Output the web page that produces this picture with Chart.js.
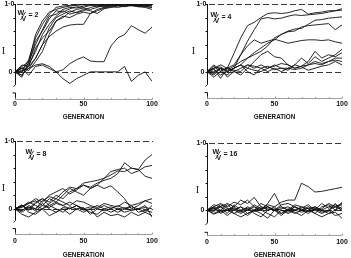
<!DOCTYPE html>
<html>
<head>
<meta charset="utf-8">
<script src="https://cdn.jsdelivr.net/npm/chart.js"></script>
<style>
  html, body { margin: 0; padding: 0; background: #fff; }
  #wrap { position: relative; width: 351px; height: 258px; overflow: hidden; }
  canvas { position: absolute; }
</style>
</head>
<body>
<div id="wrap">
  <canvas id="w2" width="175" height="129" style="left:0;top:0"></canvas>
  <canvas id="w4" width="176" height="129" style="left:175px;top:0"></canvas>
  <canvas id="w8" width="175" height="129" style="left:0;top:129px"></canvas>
  <canvas id="w16" width="176" height="129" style="left:175px;top:129px"></canvas>
</div>
<script>
// generation sampled every 5
const generations = [0, 5, 10, 15, 20, 25, 30, 35, 40, 45, 50, 55, 60, 65, 70, 75, 80, 85, 90, 95, 100];
const xTickLabels = ['0', '50', '100'];

// W/V = 2
const runsW2 = [
  [0, -0.05, 0.05, 0.1, 0.12, 0.08, 0.0, -0.1, -0.17, -0.1, -0.05, 0, 0, 0, 0, 0.0, 0.08, -0.14, -0.05, 0.0, -0.14],
  [0, 0.05, -0.05, 0.08, 0.1, 0.05, 0.0, 0.03, 0.12, 0.18, 0.22, 0.16, 0.15, 0.15, 0.38, 0.5, 0.55, 0.68, 0.62, 0.57, 0.66],
  [0, 0.0, 0.08, 0.2, 0.4, 0.52, 0.6, 0.66, 0.69, 0.7, 0.7, 0.86, 0.92, 0.95, 0.97, 0.98, 0.97, 0.98, 0.96, 0.97, 0.95],
  [0, 0.08, 0.15, 0.55, 0.75, 0.88, 0.92, 0.95, 0.97, 0.98, 0.99, 1.0, 0.99, 1.0, 0.99, 1.0, 0.99, 1.0, 0.99, 1.0, 0.99],
  [0, 0.05, 0.12, 0.45, 0.6, 0.78, 0.9, 0.88, 0.93, 0.96, 0.95, 0.98, 0.97, 0.99, 1.0, 0.98, 0.99, 0.97, 0.99, 1.0, 0.98],
  [0, -0.05, 0.1, 0.3, 0.55, 0.7, 0.82, 0.9, 0.85, 0.88, 0.92, 0.9, 0.86, 0.93, 0.95, 0.97, 0.96, 0.98, 0.96, 0.95, 0.92],
  [0, 0.02, 0.05, 0.2, 0.4, 0.65, 0.8, 0.85, 0.9, 0.87, 0.9, 0.95, 0.97, 0.96, 0.98, 0.99, 1.0, 0.98, 0.97, 0.99, 1.0],
  [0, 0.1, 0.08, 0.35, 0.5, 0.6, 0.75, 0.8, 0.88, 0.92, 0.94, 0.92, 0.95, 0.98, 0.97, 0.99, 0.98, 1.0, 0.98, 0.96, 0.95],
  [0, -0.08, 0.15, 0.4, 0.62, 0.82, 0.85, 0.92, 0.95, 0.94, 0.97, 0.99, 0.98, 0.97, 0.99, 0.98, 1.0, 0.99, 1.0, 0.98, 0.97],
  [0, 0.06, 0.02, 0.15, 0.3, 0.55, 0.75, 0.82, 0.8, 0.85, 0.88, 0.86, 0.9, 0.94, 0.96, 0.95, 0.97, 0.99, 0.98, 0.97, 0.99],
  [0, 0.0, 0.18, 0.5, 0.7, 0.85, 0.95, 0.97, 0.98, 0.99, 1.0, 0.99, 1.0, 0.99, 1.0, 0.99, 1.0, 0.99, 1.0, 0.99, 1.0]
];

// W/V = 4
const runsW4 = [
  [0, 0.05, -0.1, 0.05, 0.27, 0.5, 0.68, 0.73, 0.8, 0.86, 0.87, 0.86, 0.87, 0.9, 0.92, 0.85, 0.87, 0.88, 0.9, 0.9, 0.91],
  [0, -0.05, 0.05, 0.0, 0.05, 0.25, 0.45, 0.62, 0.78, 0.8, 0.78, 0.79, 0.82, 0.84, 0.83, 0.84, 0.85, 0.86, 0.88, 0.9, 0.93],
  [0, 0.08, 0.0, -0.05, 0.05, 0.1, 0.2, 0.28, 0.35, 0.42, 0.47, 0.55, 0.6, 0.63, 0.64, 0.7, 0.76, 0.77, 0.79, 0.8, 0.81],
  [0, -0.03, 0.05, 0.02, 0.08, 0.15, 0.2, 0.25, 0.3, 0.38, 0.5, 0.55, 0.59, 0.6, 0.66, 0.68, 0.69, 0.7, 0.71, 0.62, 0.69],
  [0, 0.1, 0.02, 0.05, 0.1, 0.25, 0.38, 0.47, 0.42, 0.45, 0.48, 0.45, 0.42, 0.44, 0.46, 0.47, 0.47, 0.46, 0.47, 0.44, 0.42],
  [0, 0.05, 0.07, 0.0, 0.05, 0.1, 0.05, 0.15, 0.25, 0.3, 0.22, 0.2, 0.1, 0.05, 0.08, 0.15, 0.3, 0.2, 0.25, 0.22, 0.28],
  [0, -0.08, 0.0, 0.06, 0.02, 0.0, 0.1, 0.05, 0.1, 0.05, 0.1, 0.05, 0.02, 0.1, 0.2, 0.12, 0.22, 0.15, 0.2, 0.25, 0.33],
  [0, 0.03, -0.05, 0.0, 0.05, 0.1, 0.0, -0.05, 0.05, 0.08, 0.03, 0.05, 0.05, 0.03, 0.05, 0.1, 0.15, 0.12, 0.15, 0.2, 0.2],
  [0, 0.0, 0.05, -0.08, 0.0, 0.05, 0.1, 0.08, 0.05, 0.0, 0.05, 0.0, 0.05, 0.1, 0.07, 0.02, 0.05, 0.08, 0.1, 0.15, 0.1],
  [0, 0.05, 0.1, 0.05, 0.0, -0.05, 0.05, 0.02, 0.0, 0.05, 0.08, 0.12, 0.1, 0.05, 0.08, 0.1, 0.12, 0.1, 0.15, 0.17, 0.15]
];

// W/V = 8
const runsW8 = [
  [0, 0.05, 0.0, 0.1, 0.15, 0.1, 0.2, 0.15, 0.25, 0.3, 0.35, 0.32, 0.38, 0.42, 0.45, 0.52, 0.68, 0.6, 0.58, 0.72, 0.8],
  [0, -0.03, 0.05, 0.0, 0.12, 0.18, 0.15, 0.25, 0.32, 0.3, 0.38, 0.4, 0.42, 0.45, 0.55, 0.58, 0.6, 0.52, 0.56, 0.62, 0.64],
  [0, 0.02, 0.08, 0.15, 0.1, 0.2, 0.25, 0.3, 0.22, 0.28, 0.35, 0.3, 0.35, 0.45, 0.5, 0.56, 0.55, 0.6, 0.58, 0.48, 0.45],
  [0, 0.05, -0.02, 0.08, 0.15, 0.05, 0.1, 0.2, 0.3, 0.25, 0.2, 0.3, 0.35, 0.3, 0.34, 0.25, 0.15, 0.0, 0.05, 0.12, 0.15],
  [0, 0.03, 0.1, 0.05, 0.0, 0.08, 0.15, 0.1, 0.05, 0.12, 0.1, 0.05, 0.02, 0.08, 0.05, 0.03, 0.1, 0.05, 0.08, 0.12, 0.08],
  [0, -0.05, 0.02, 0.0, 0.08, 0.0, -0.05, 0.02, 0.0, 0.05, -0.02, 0.0, 0.05, 0.0, 0.03, 0.0, 0.02, -0.02, 0.0, 0.02, 0.0],
  [0, 0.06, -0.05, -0.08, 0.0, 0.05, 0.0, -0.05, 0.03, 0.0, 0.02, -0.08, 0.0, 0.05, 0.0, -0.05, 0.0, 0.05, -0.05, -0.02, -0.05],
  [0, -0.08, -0.12, -0.05, 0.0, -0.1, -0.05, 0.0, -0.08, 0.0, -0.05, 0.0, -0.12, -0.05, -0.1, -0.08, -0.12, -0.05, -0.1, -0.05, -0.1],
  [0, 0.04, 0.08, 0.12, 0.05, 0.15, 0.1, 0.05, 0.0, 0.05, 0.0, 0.03, 0.0, -0.03, 0.0, 0.05, 0.0, 0.03, 0.0, -0.05, 0.05],
  [0, -0.02, 0.03, -0.03, 0.05, 0.02, 0.08, 0.05, 0.1, 0.05, 0.0, -0.05, -0.08, 0.0, -0.05, 0.0, -0.05, -0.02, 0.0, 0.05, -0.12]
];

// W/V = 16
const runsW16 = [
  [0, 0.02, 0.05, 0.0, 0.03, -0.02, 0.05, 0.0, 0.02, 0.08, 0.05, 0.12, 0.15, 0.15, 0.4, 0.35, 0.27, 0.28, 0.3, 0.32, 0.34],
  [0, 0.05, 0.1, 0.05, 0.12, 0.08, 0.15, 0.05, 0.0, 0.1, 0.25, 0.05, 0.0, 0.08, 0.05, 0.02, 0.05, 0.0, 0.05, 0.08, 0.02],
  [0, 0.08, 0.05, 0.1, 0.05, 0.15, 0.1, 0.19, 0.05, 0.02, 0.0, 0.08, 0.1, 0.05, 0.0, 0.05, 0.0, 0.1, 0.03, 0.05, 0.1],
  [0, -0.05, 0.0, -0.08, 0.0, -0.05, 0.0, 0.05, 0.0, -0.05, -0.1, 0.0, -0.05, 0.0, 0.05, -0.02, 0.0, -0.05, 0.0, -0.08, -0.05],
  [0, 0.03, -0.03, 0.02, -0.05, 0.0, -0.08, 0.0, 0.05, 0.0, 0.05, -0.05, 0.02, 0.0, -0.03, 0.0, 0.05, 0.0, -0.05, 0.0, 0.12],
  [0, -0.02, 0.05, -0.05, 0.08, 0.0, 0.03, -0.05, -0.1, 0.0, 0.02, 0.0, -0.03, 0.05, 0.0, -0.05, 0.02, -0.03, 0.0, 0.05, 0.0],
  [0, 0.05, 0.0, 0.08, 0.0, 0.05, -0.05, 0.0, 0.1, 0.05, 0.0, 0.05, 0.0, -0.05, 0.0, 0.03, -0.05, 0.05, 0.08, 0.0, 0.05],
  [0, -0.06, -0.02, 0.0, -0.05, -0.1, -0.05, 0.0, -0.05, -0.12, 0.0, -0.05, 0.0, -0.03, -0.08, 0.0, -0.05, -0.1, -0.05, -0.03, -0.12],
  [0, 0.0, 0.08, 0.03, 0.0, 0.05, 0.0, 0.08, 0.02, 0.05, 0.0, 0.02, 0.05, 0.0, 0.03, 0.08, 0.0, 0.02, 0.1, 0.05, 0.08],
  [0, 0.04, -0.05, 0.0, 0.05, -0.03, 0.02, -0.02, 0.0, 0.05, 0.0, -0.08, 0.0, 0.05, 0.0, -0.02, 0.03, 0.0, -0.02, 0.1, -0.02]
];

const SANS = '"Liberation Sans", Arial, sans-serif';

// axes, dashed reference lines and labels drawn from the chart's own scales
const frame = {
  id: 'frame',
  beforeDatasetsDraw(chart, args, o) {
    const { ctx, scales: { x, y } } = chart;
    ctx.save();
    ctx.strokeStyle = '#222';
    ctx.lineWidth = 0.9;
    ctx.setLineDash([6, 3]);
    [1, 0].forEach(v => {
      const py = Math.round(y.getPixelForValue(v)) + 0.5;
      ctx.beginPath();
      ctx.moveTo(x.getPixelForValue(0) + 2, py);
      ctx.lineTo(x.getPixelForValue(100) + 1, py);
      ctx.stroke();
    });
    ctx.restore();
  },
  afterDatasetsDraw(chart, args, o) {
    const { ctx, scales: { x, y } } = chart;
    const ax = Math.round(x.getPixelForValue(0)) + 0.5;
    const top = y.getPixelForValue(1);
    const bot = Math.round(y.getPixelForValue(y.min)) + 0.5;
    const b1 = y.getPixelForValue(o.brk[0]);
    const b2 = y.getPixelForValue(o.brk[1]);
    ctx.save();
    ctx.strokeStyle = '#111';
    ctx.lineWidth = 1;
    // broken y axis
    ctx.beginPath();
    ctx.moveTo(ax, top);
    ctx.lineTo(ax, b1);
    ctx.lineTo(ax - 2, b1 + 2);
    ctx.moveTo(ax - 3, b2);
    ctx.lineTo(ax, b2);
    ctx.lineTo(ax, bot);
    ctx.stroke();
    // y minor ticks
    ctx.beginPath();
    for (let v = 0; v <= 1.001; v += 0.2) {
      const py = Math.round(y.getPixelForValue(v)) + 0.5;
      ctx.moveTo(ax - 2, py);
      ctx.lineTo(ax, py);
    }
    ctx.stroke();
    // x axis (faint)
    ctx.strokeStyle = '#888';
    ctx.lineWidth = 0.8;
    ctx.beginPath();
    ctx.moveTo(ax, bot);
    ctx.lineTo(x.getPixelForValue(100), bot);
    for (let g = 0; g <= 100; g += 10) {
      const px = Math.round(x.getPixelForValue(g)) + 0.5;
      ctx.moveTo(px, bot);
      ctx.lineTo(px, bot - (g % 50 === 0 ? 2 : 1.5));
    }
    ctx.stroke();

    ctx.fillStyle = '#111';
    ctx.textBaseline = 'middle';
    ctx.font = 'bold 7px ' + SANS;
    ctx.textAlign = 'right';
    ctx.fillText('1·0', ax - 1, top);
    ctx.fillText('0', ax - 3, y.getPixelForValue(0));
    ctx.textAlign = 'center';
    xTickLabels.forEach(t => ctx.fillText(t, x.getPixelForValue(+t), o.tickY));
    ctx.font = 'bold 6.3px ' + SANS;
    ctx.fillText('GENERATION', x.getPixelForValue(50), o.titleY);
    ctx.font = '10px "Liberation Serif", serif';
    ctx.fillText('I', ax - o.iOff, y.getPixelForValue(0.3));
    // inset label W/V = n
    const ix = ax + o.inset[0], iy = top + o.inset[1];
    ctx.font = 'bold 7px ' + SANS;
    ctx.textAlign = 'left';
    ctx.fillText('W', ix, iy);
    ctx.fillText('V', ix + 4, iy + 6);
    ctx.lineWidth = 0.8;
    ctx.strokeStyle = '#111';
    ctx.beginPath();
    ctx.moveTo(ix + 3, iy + 7);
    ctx.lineTo(ix + 8, iy - 1);
    ctx.stroke();
    ctx.fillText('= ' + o.ratio, ix + 11, iy + 2);
    ctx.restore();
  }
};

function makeChart(id, runs, o) {
  new Chart(document.getElementById(id), {
    type: 'line',
    data: {
      datasets: runs.map(r => ({
        data: r.map((v, i) => ({ x: generations[i], y: v })),
        borderColor: '#111',
        borderWidth: 0.9,
        pointRadius: 0,
        tension: 0,
        fill: false
      }))
    },
    options: {
      responsive: false,
      animation: false,
      layout: { padding: o.pad },
      scales: {
        x: { type: 'linear', min: 0, max: 100, display: false },
        y: { min: o.yMin, max: 1, display: false }
      },
      plugins: {
        legend: { display: false },
        tooltip: { enabled: false },
        frame: o
      }
    },
    plugins: [frame]
  });
}

makeChart('w2', runsW2, { ratio: '2', pad: { left: 15, top: 4, right: 23, bottom: 30 }, yMin: -0.4, brk: [-0.19, -0.31], tickY: 104, titleY: 117, iOff: 12, inset: [2, 9] });
makeChart('w4', runsW4, { ratio: '4', pad: { left: 32, top: 4, right: 9, bottom: 31 }, yMin: -0.39, brk: [-0.19, -0.31], tickY: 104, titleY: 117.5, iOff: 14, inset: [3, 11] });
makeChart('w8', runsW8, { ratio: '8', pad: { left: 15, top: 12, right: 23, bottom: 24 }, yMin: -0.37, brk: [-0.17, -0.29], tickY: 112, titleY: 126, iOff: 12, inset: [10, 11] });
makeChart('w16', runsW16, { ratio: '16', pad: { left: 32, top: 14, right: 9, bottom: 23 }, yMin: -0.37, brk: [-0.19, -0.33], tickY: 113, titleY: 126, iOff: 10, inset: [5, 9] });
</script>
</body>
</html>
